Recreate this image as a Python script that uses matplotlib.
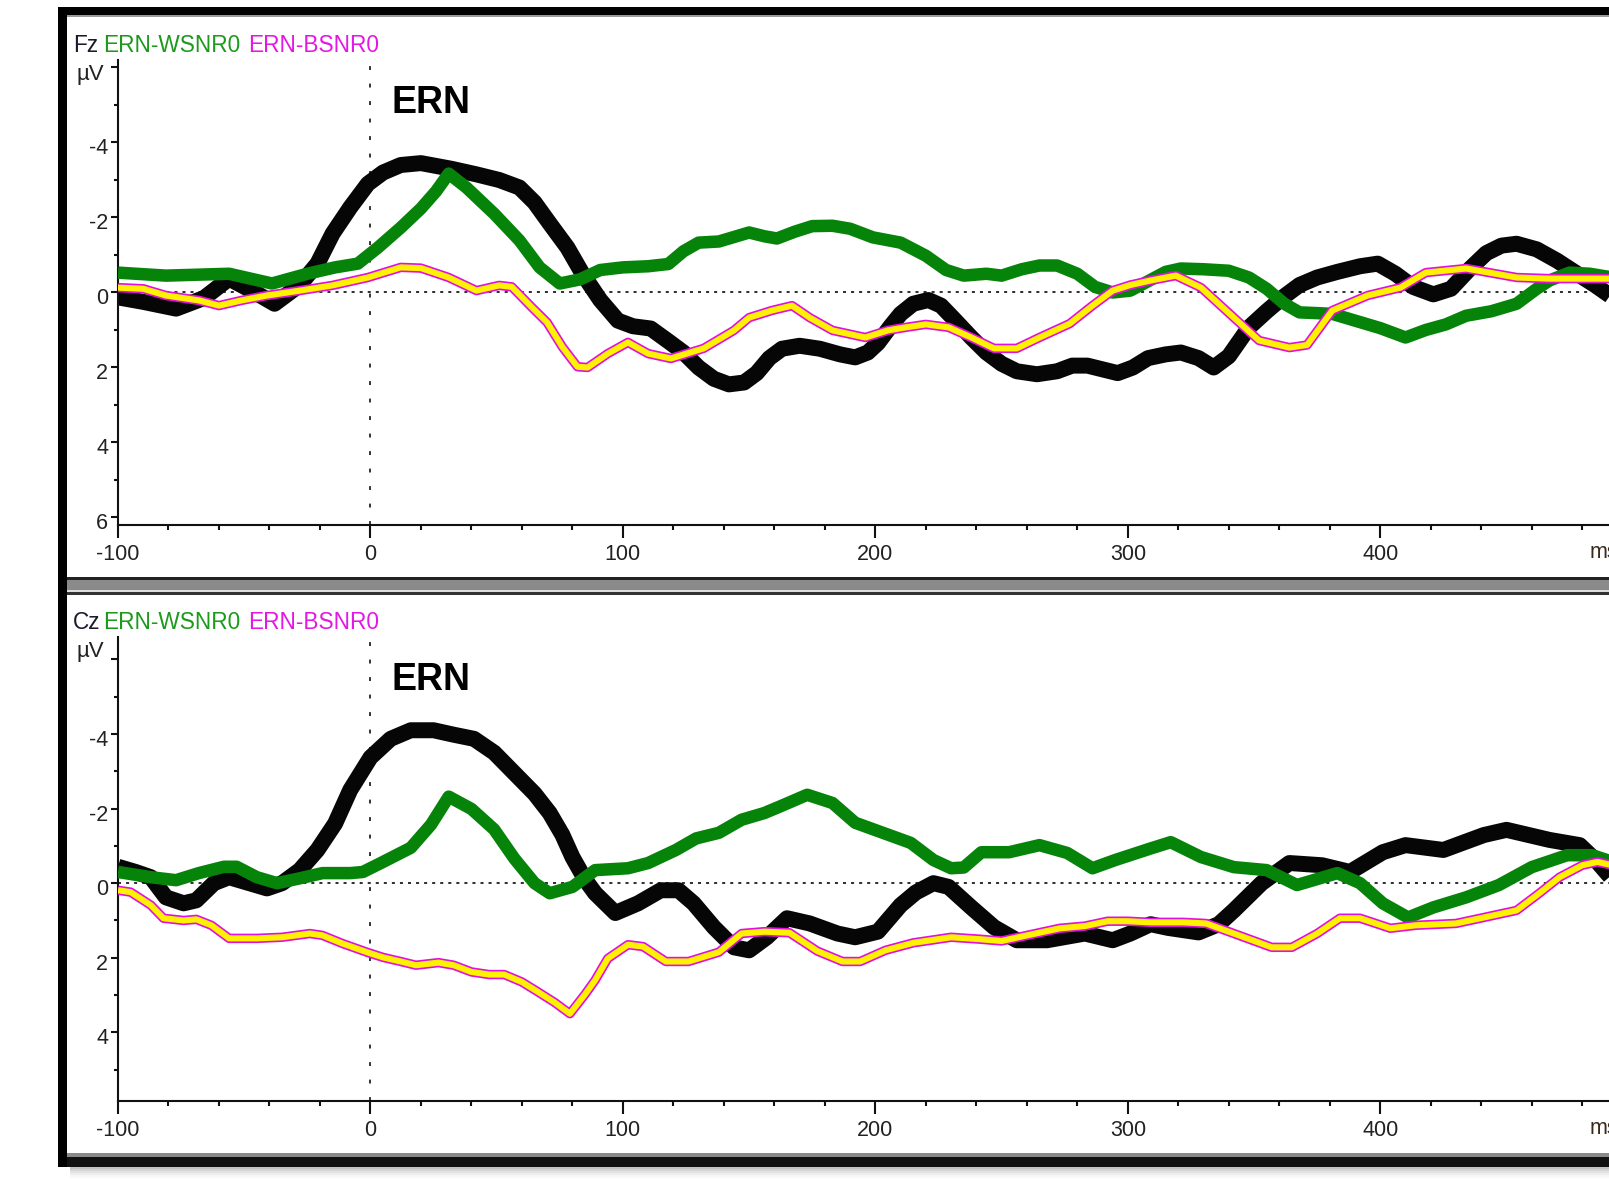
import matplotlib
matplotlib.use('Agg')
import matplotlib.pyplot as plt
import matplotlib.transforms as mtransforms
from matplotlib.patches import Rectangle
from matplotlib.ticker import MultipleLocator, FixedLocator, FixedFormatter, FuncFormatter

# ---- data (time in ms, amplitude in microvolt; negative plotted up) ----
fz_black_t = [-100, -90, -77, -66, -56, -47, -38, -28, -21, -15,
              -8, -1, 5, 12, 20, 32, 42, 51, 59, 65,
              71, 78, 84, 91, 98, 104, 111, 118, 124, 130,
              136, 142, 148, 153, 158, 163, 170, 178, 186, 192,
              197, 201, 206, 210, 215, 221, 226, 231, 238, 244,
              250, 256, 264, 272, 278, 284, 290, 296, 302, 308,
              315, 321, 328, 334, 340, 348, 355, 362, 368, 375,
              383, 392, 399, 406, 413, 421, 428, 435, 442, 448,
              454, 462, 470, 478, 485, 492]
fz_black_v = [0.13, 0.25, 0.43, 0.15, -0.37, -0.05, 0.3, -0.2, -0.77, -1.57,
              -2.27, -2.9, -3.2, -3.4, -3.45, -3.3, -3.15, -3.0, -2.8, -2.4,
              -1.84, -1.2, -0.5, 0.2, 0.75, 0.9, 0.96, 1.3, 1.6, 2.0,
              2.3, 2.45, 2.4, 2.15, 1.75, 1.5, 1.42, 1.5, 1.65, 1.73,
              1.6, 1.35, 0.9, 0.57, 0.3, 0.2, 0.35, 0.7, 1.2, 1.6,
              1.9, 2.1, 2.18, 2.1, 1.95, 1.95, 2.05, 2.15, 2.0, 1.75,
              1.65, 1.6, 1.75, 2.0, 1.7, 0.93, 0.5, 0.1, -0.2, -0.4,
              -0.55, -0.7, -0.77, -0.5, -0.15, 0.05, -0.1, -0.6, -1.05, -1.25,
              -1.3, -1.15, -0.85, -0.5, -0.2, 0.13]

fz_green_t = [-100, -81, -56, -39, -25, -14, -5, 3, 12, 20,
              26, 31, 38, 49, 59, 67, 75, 83, 91, 100,
              110, 118, 124, 130, 138, 145, 150, 156, 161, 168,
              175, 183, 190, 199, 210, 220, 228, 235, 244, 250,
              258, 265, 272, 280, 287, 294, 301, 308, 315, 321,
              330, 340, 348, 355, 362, 368, 375, 381, 390, 400,
              410, 418, 426, 434, 444, 454, 462, 467, 475, 483,
              492]
fz_green_v = [-0.53, -0.45, -0.5, -0.24, -0.5, -0.67, -0.77, -1.2, -1.73, -2.24,
              -2.7, -3.17, -2.8, -2.1, -1.39, -0.67, -0.24, -0.35, -0.6, -0.67,
              -0.7, -0.76, -1.1, -1.33, -1.36, -1.5, -1.6, -1.5, -1.44, -1.62,
              -1.77, -1.78, -1.7, -1.47, -1.33, -0.98, -0.6, -0.45, -0.5, -0.45,
              -0.62, -0.72, -0.72, -0.5, -0.15, 0.0, -0.05, -0.3, -0.55, -0.64,
              -0.62, -0.58, -0.4, -0.1, 0.3, 0.53, 0.55, 0.57, 0.75, 0.95,
              1.2, 1.0, 0.85, 0.62, 0.5, 0.3, -0.1, -0.32, -0.53, -0.5,
              -0.4]

fz_pink_t = [-100, -90, -81, -68, -60, -51, -41, -28, -15, -1,
             12, 20, 31, 42, 51, 56, 64, 70, 76, 82,
             86, 94, 102, 110, 119, 132, 144, 150, 159, 167,
             174, 183, 196, 205, 212, 220, 229, 238, 247, 256,
             265, 277, 286, 294, 301, 309, 319, 329, 342, 352,
             364, 371, 381, 395, 408, 418, 434, 454, 467, 492]
fz_pink_v = [-0.13, -0.1, 0.08, 0.21, 0.35, 0.21, 0.08, -0.05, -0.19, -0.4,
             -0.67, -0.65, -0.4, -0.05, -0.19, -0.15, 0.4, 0.8, 1.45, 1.98,
             2.0, 1.63, 1.33, 1.63, 1.76, 1.49, 1.01, 0.67, 0.48, 0.35,
             0.67, 1.01, 1.2, 1.01, 0.93, 0.85, 0.93, 1.2, 1.49, 1.49,
             1.2, 0.83, 0.35, -0.05, -0.2, -0.32, -0.45, -0.13, 0.67, 1.28,
             1.47, 1.4, 0.48, 0.08, -0.13, -0.53, -0.64, -0.4, -0.37, -0.37]

cz_black_t = [-100, -93, -87, -81, -74, -69, -62, -56, -48, -41,
              -35, -28, -21, -14, -8, 0, 8, 16, 25, 33,
              41, 49, 57, 65, 71, 76, 80, 85, 89, 97,
              106, 115, 122, 128, 136, 144, 150, 157, 165, 174,
              185, 192, 201, 210, 216, 223, 229, 238, 247, 256,
              268, 283, 294, 301, 309, 316, 328, 336, 342, 353,
              364, 377, 388, 401, 410, 425, 441, 450, 467, 479,
              486, 492]
cz_black_v = [-0.44, -0.3, -0.16, 0.38, 0.54, 0.46, 0.0, -0.16, 0.0, 0.14,
              0.0, -0.35, -0.89, -1.6, -2.5, -3.37, -3.87, -4.1, -4.1, -3.98,
              -3.87, -3.5, -2.95, -2.4, -1.88, -1.3, -0.7, -0.1, 0.27, 0.8,
              0.54, 0.19, 0.19, 0.54, 1.18, 1.72, 1.8, 1.45, 0.94, 1.08,
              1.35, 1.45, 1.3, 0.59, 0.25, 0.0, 0.1, 0.65, 1.18, 1.53,
              1.53, 1.35, 1.53, 1.35, 1.1, 1.2, 1.32, 1.1, 0.73, 0.0,
              -0.54, -0.48, -0.3, -0.83, -1.02, -0.89, -1.29, -1.43, -1.16, -1.02,
              -0.57, -0.1]

cz_green_t = [-100, -87, -77, -68, -58, -53, -45, -37, -28, -19,
              -8, -3, 5, 16, 24, 31, 40, 49, 57, 65,
              71, 80, 89, 102, 110, 121, 129, 138, 147, 156,
              162, 173, 183, 192, 203, 214, 223, 230, 235, 242,
              253, 265, 276, 286, 295, 309, 317, 329, 342, 355,
              367, 383, 392, 401, 411, 421, 434, 447, 460, 474,
              484, 492]
cz_green_v = [-0.3, -0.16, -0.08, -0.27, -0.44, -0.44, -0.16, 0.0, -0.13, -0.27,
              -0.27, -0.3, -0.57, -0.95, -1.57, -2.32, -1.99, -1.44, -0.66, 0.0,
              0.27, 0.1, -0.35, -0.4, -0.54, -0.89, -1.2, -1.35, -1.7, -1.88,
              -2.05, -2.37, -2.15, -1.62, -1.35, -1.08, -0.62, -0.4, -0.42, -0.83,
              -0.83, -1.02, -0.81, -0.4, -0.62, -0.93, -1.1, -0.7, -0.43, -0.35,
              0.05, -0.27, 0.0, 0.54, 0.92, 0.65, 0.38, 0.05, -0.43, -0.75,
              -0.75, -0.57]

cz_pink_t = [-100, -95, -87, -82, -74, -69, -63, -56, -45, -35,
             -24, -19, -11, -1, 5, 12, 18, 27, 33, 40,
             47, 53, 60, 66, 73, 79, 85, 89, 94, 102,
             108, 117, 126, 138, 147, 156, 166, 177, 187, 194,
             204, 215, 230, 241, 250, 260, 273, 283, 292, 300,
             309, 322, 331, 342, 357, 365, 375, 384, 392, 404,
             414, 430, 441, 454, 463, 471, 480, 486, 492]
cz_pink_v = [0.19, 0.24, 0.59, 0.94, 1.0, 0.97, 1.13, 1.48, 1.48, 1.45,
             1.35, 1.4, 1.62, 1.86, 1.99, 2.1, 2.2, 2.13, 2.2, 2.38,
             2.45, 2.45, 2.65, 2.9, 3.2, 3.5, 2.98, 2.6, 2.02, 1.65,
             1.7, 2.1, 2.1, 1.85, 1.35, 1.3, 1.33, 1.82, 2.1, 2.1,
             1.8, 1.6, 1.45, 1.5, 1.55, 1.4, 1.21, 1.15, 1.02, 1.02,
             1.05, 1.05, 1.08, 1.35, 1.72, 1.72, 1.35, 0.94, 0.94, 1.21,
             1.13, 1.08, 0.92, 0.73, 0.27, -0.16, -0.48, -0.57, -0.48]

channels = ['Fz', 'Cz']
conditions = ['ERN-WSNR0', 'ERN-BSNR0']
x_ticks = [-100, 0, 100, 200, 300, 400, 500]
y_ticks = [-6, -4, -2, 0, 2, 4, 6]
y_ticklabels = ['', '-4', '-2', '0', '2', '4', '6']

W, H = 1609, 1180
plt.rcParams['font.family'] = ['Liberation Sans', 'DejaVu Sans']

fig = plt.figure(figsize=(W / 100, H / 100), dpi=100)
fig.patch.set_facecolor('white')


def box(x0, y0, x1, y1, color, alpha=1.0):
    # rectangle given in pixel coords from the top left corner
    fig.patches.append(Rectangle((x0 / W, 1 - y1 / H), (x1 - x0) / W, (y1 - y0) / H,
                                 transform=fig.transFigure, facecolor=color,
                                 edgecolor='none', alpha=alpha, zorder=0))


# window frame
for i, a in enumerate([0.35, 0.25, 0.17, 0.1, 0.05, 0.02]):
    box(70, 1167 + 2 * i, W, 1169 + 2 * i, '#555555', a)
box(58, 7, W, 15, 'black')
box(67, 15, W, 17, '#9a9a9a')
box(58, 7, 67, 1167, 'black')
box(67, 577, W, 580, '#222222')
box(67, 580, W, 590, '#8a8a8a')
box(67, 590, W, 592, '#dddddd')
box(67, 592, W, 595, '#333333')
box(67, 1153, W, 1157, '#8a8a8a')
box(67, 1157, W, 1167, '#111111')

offset = mtransforms.ScaledTranslation(0, -4 / 100, fig.dpi_scale_trans)


def panel(top, bottom, ylim, black, green, pink, chan):
    ax = fig.add_axes([118 / W, 1 - bottom / H, (W - 118) / W, (bottom - top) / H])
    ax.set_xlim(-100, 490.6)
    ax.set_ylim(*ylim)
    ax.patch.set_alpha(0)
    for s in ['top', 'right']:
        ax.spines[s].set_visible(False)
    for s in ['left', 'bottom']:
        ax.spines[s].set_linewidth(1.5)
        ax.spines[s].set_color('#111111')

    ax.axhline(0, color='#333333', lw=1.45, ls=(0, (1.5, 2.5)), zorder=1)
    ax.axvline(0, color='#333333', lw=1.4, ls=(0, (2, 7)), zorder=1)

    ax.plot(black[0], black[1], color='#060606', lw=11.5, solid_joinstyle='round',
            solid_capstyle='butt', zorder=2)
    ax.plot(green[0], green[1], color='#06840a', lw=9.0, solid_joinstyle='round',
            solid_capstyle='butt', zorder=3)
    ax.plot(pink[0], pink[1], color='#e010e0', lw=6.8, solid_joinstyle='round',
            solid_capstyle='butt', zorder=4)
    ax.plot(pink[0], pink[1], color='#fff200', lw=4.4, solid_joinstyle='round',
            solid_capstyle='butt', zorder=5)

    ax.xaxis.set_major_locator(FixedLocator(x_ticks))
    ax.xaxis.set_major_formatter(FuncFormatter(lambda v, p: '%d' % v))
    ax.xaxis.set_minor_locator(MultipleLocator(20))
    ax.yaxis.set_major_locator(FixedLocator(y_ticks))
    ax.yaxis.set_major_formatter(FixedFormatter(y_ticklabels))
    ax.yaxis.set_minor_locator(MultipleLocator(1))

    ax.tick_params(axis='x', which='major', length=9, width=1.5, labelsize=15.5, pad=5,
                   color='#111111', labelcolor='#222222')
    ax.tick_params(axis='x', which='minor', length=3.8, width=1.5, color='#111111')
    ax.tick_params(axis='y', which='major', length=5, width=1.5, labelsize=15.5, pad=2,
                   color='#111111', labelcolor='#222222')
    ax.tick_params(axis='y', which='minor', length=3, width=1.5, color='#111111')
    for lab in ax.get_yticklabels():
        lab.set_transform(lab.get_transform() + offset)

    # header line and labels
    hy = top - 8
    fig.text(73 / W, 1 - hy / H, chan, color='#1a1a2a', fontsize=16.3, va='baseline')
    fig.text(103 / W, 1 - hy / H, conditions[0], color='#1d9a1d', fontsize=16.3, va='baseline')
    fig.text(248 / W, 1 - hy / H, conditions[1], color='#e418e4', fontsize=16.3, va='baseline')
    fig.text(104 / W, 1 - (top + 4) / H, 'µV', color='#222222', fontsize=16,
             ha='right', va='top')
    fig.text(1590 / W, 1 - (bottom + 17) / H, 'ms', color='#3a2a1a', fontsize=15.5, va='top')
    fig.text(392 / W, 1 - (top + 53) / H, 'ERN', color='black', fontsize=27,
             fontweight='bold', va='baseline')
    return ax


panel(60, 525, (6.2, -6.2), (fz_black_t, fz_black_v), (fz_green_t, fz_green_v),
      (fz_pink_t, fz_pink_v), channels[0])
panel(637, 1101, (5.84, -6.6), (cz_black_t, cz_black_v), (cz_green_t, cz_green_v),
      (cz_pink_t, cz_pink_v), channels[1])

fig.savefig('out.png', dpi=100, facecolor='white')
